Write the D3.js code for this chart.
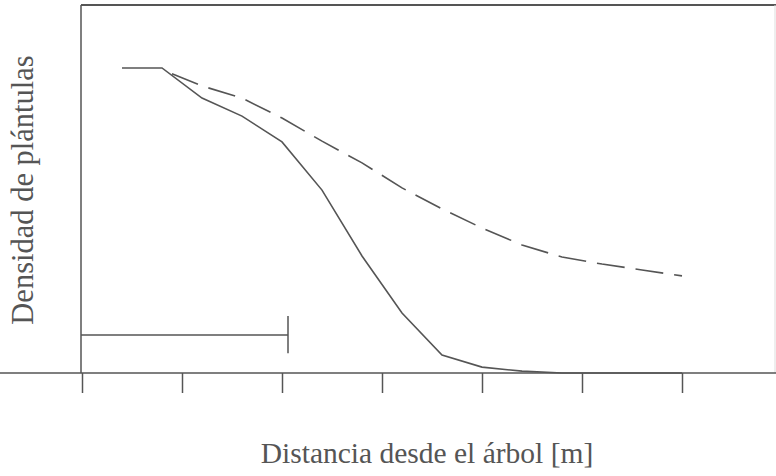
<!DOCTYPE html>
<html>
<head>
<meta charset="utf-8">
<script src="https://cdn.jsdelivr.net/npm/d3@7"></script>
<style>
  body { margin: 0; background: #fff; }
  text { font-family: "Liberation Serif", "DejaVu Serif", serif; fill: #555; }
</style>
</head>
<body>
<div id="chart"></div>
<script>
// distances (axis units, 1 tick = 1)
const solidX = [0.4, 0.8, 1.2, 1.6, 2.0, 2.4, 2.8, 3.2, 3.6, 4.0, 4.4, 4.8, 5.2, 5.6, 6.0];
const solidY = [82.9, 82.9, 74.7, 69.8, 62.8, 49.7, 31.8, 16.3, 4.9, 1.6, 0.5, 0, 0, 0, 0];
const dashX = [0.9, 1.2, 1.6, 2.0, 2.4, 2.8, 3.2, 3.6, 4.0, 4.4, 4.8, 5.2, 5.6, 6.0];
const dashY = [81.3, 78.0, 74.7, 69.3, 63.0, 57.1, 50.3, 44.6, 39.4, 34.8, 31.5, 29.6, 28.0, 26.4];
const xTicks = [0, 1, 2, 3, 4, 5, 6];
// scale bar
const barLen = 2.06, barY = 10.3, barTop = 15.5, barBottom = 5.4;

const width = 776, height = 476;
const ink = "#555";

const svg = d3.select("#chart").append("svg").attr("width", width).attr("height", height);

const x = d3.scaleLinear().domain([0, 6.94]).range([82, 776]);
const y = d3.scaleLinear().domain([0, 100]).range([373, 5]);

// frame
svg.append("line").attr("x1", 81).attr("x2", 776).attr("y1", 5).attr("y2", 5)
   .attr("stroke", ink).attr("stroke-width", 2);
svg.append("line").attr("x1", 775).attr("x2", 775).attr("y1", 5).attr("y2", 373)
   .attr("stroke", "#ddd").attr("stroke-width", 1);
svg.append("line").attr("x1", 81).attr("x2", 81).attr("y1", 5).attr("y2", 373)
   .attr("stroke", ink).attr("stroke-width", 1.5);

// bottom axis, no labels
const xAxis = d3.axisBottom(x).tickValues(xTicks).tickSize(20).tickFormat("");
const gx = svg.append("g").attr("transform", "translate(0,373)").call(xAxis);
gx.select(".domain").attr("stroke", ink).attr("stroke-width", 1.5).attr("d", "M-1,0H776");
gx.selectAll(".tick line").attr("stroke", ink).attr("stroke-width", 1.5);

const line = d3.line().x(d => x(d[0])).y(d => y(d[1]));

svg.append("path")
   .datum(d3.zip(solidX, solidY))
   .attr("d", line)
   .attr("fill", "none").attr("stroke", ink).attr("stroke-width", 1.6);

svg.append("path")
   .datum(d3.zip(dashX, dashY))
   .attr("d", line)
   .attr("fill", "none").attr("stroke", ink).attr("stroke-width", 1.6)
   .attr("stroke-dasharray", "28,11");

// scale bar
svg.append("line").attr("x1", x(0) - 1).attr("x2", x(barLen)).attr("y1", y(barY)).attr("y2", y(barY))
   .attr("stroke", ink).attr("stroke-width", 1.5);
svg.append("line").attr("x1", x(barLen)).attr("x2", x(barLen)).attr("y1", y(barTop)).attr("y2", y(barBottom))
   .attr("stroke", ink).attr("stroke-width", 1.5);

// labels
svg.append("text")
   .attr("x", 427).attr("y", 463)
   .attr("text-anchor", "middle")
   .attr("font-size", 29.5)
   .text("Distancia desde el árbol [m]");

svg.append("text")
   .attr("transform", "translate(33,190) rotate(-90)")
   .attr("text-anchor", "middle")
   .attr("font-size", 30.5)
   .text("Densidad de plántulas");
</script>
</body>
</html>
